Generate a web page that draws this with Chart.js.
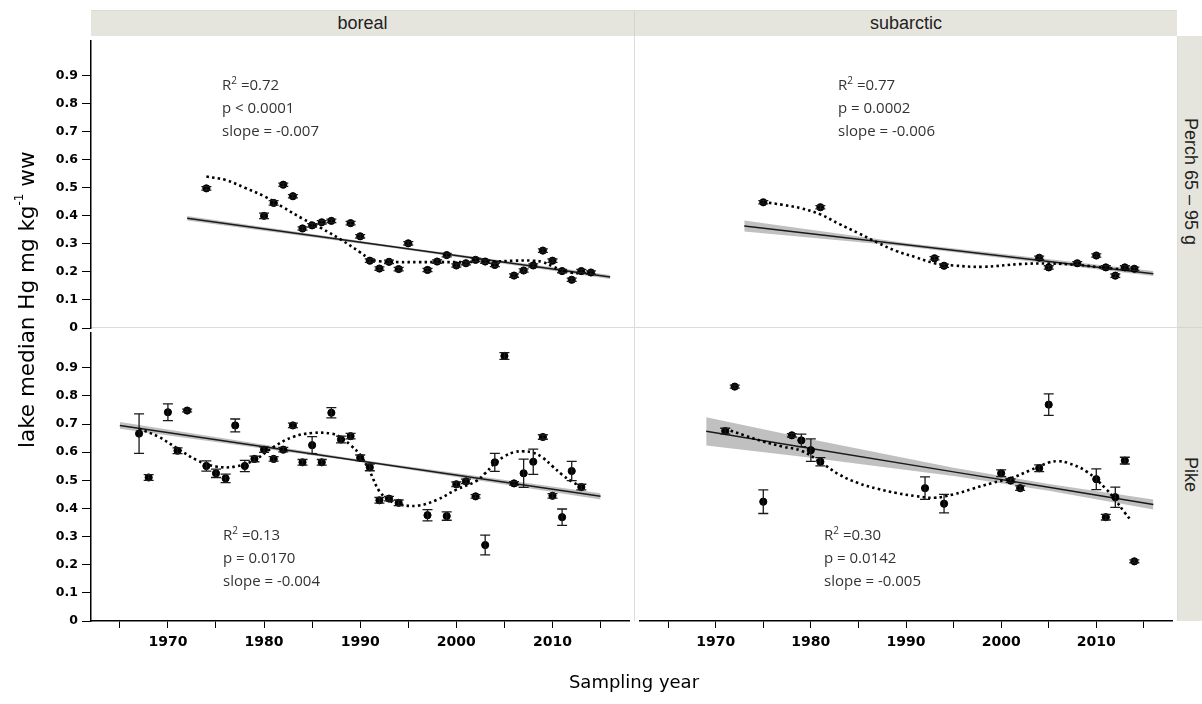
<!DOCTYPE html>
<html>
<head>
<meta charset="utf-8">
<script src="https://cdn.jsdelivr.net/npm/chart.js@4.4.1/dist/chart.umd.min.js"></script>
<style>
  html, body { margin: 0; padding: 0; background: #fff; }
  body { width: 1202px; height: 704px; position: relative; overflow: hidden; font-family: 'DejaVu Sans', sans-serif; }
  .abs { position: absolute; }
  .strip { position: absolute; background: #e6e5dd; color: #222; font-family: 'Liberation Sans', Arial, sans-serif; font-size: 18px;
    display: flex; align-items: center; justify-content: center; box-sizing: border-box; }
  .vstrip { writing-mode: vertical-rl; }
  .note { position: absolute; font-family: 'Open Sans', sans-serif; font-size: 15px; line-height: 23px; color: #333; white-space: nowrap; }
  .note sup { font-size: 10px; line-height: 0; }
  .sep { position: absolute; background: #dcdcdc; }
  #ytitle { position: absolute; left: 12px; top: 92px; height: 416px; width: 26px; writing-mode: vertical-rl; transform: rotate(180deg);
    text-align: center; font-size: 21.5px; color: #000; white-space: nowrap; }
  #ytitle sup { font-size: 12px; }
  #xtitle { position: absolute; left: 434px; width: 400px; top: 671px; text-align: center; font-size: 18px; color: #000; }
</style>
</head>
<body>
<!-- facet strips -->
<div class="strip" style="left:91px;top:10px;width:544px;height:26px;border-right:1px solid #d6d5cc;border-top:1px solid #dddcd2;">boreal</div>
<div class="strip" style="left:635px;top:10px;width:542px;height:26px;border-top:1px solid #dddcd2;">subarctic</div>
<div class="strip vstrip" style="left:1178px;top:36px;width:24px;height:292px;border-bottom:1px solid #d6d5cc;">Perch 65 – 95 g</div>
<div class="strip vstrip" style="left:1178px;top:328px;width:24px;height:293px;">Pike</div>

<!-- panel separators -->
<div class="sep" style="left:91px;top:327px;width:1086px;height:1px;"></div>
<div class="sep" style="left:634px;top:36px;width:1px;height:585px;"></div>
<div class="sep" style="left:1177px;top:36px;width:1px;height:585px;"></div>

<div class="abs" style="left:0;top:36px;"><canvas id="cTL" width="634" height="300"></canvas></div>
<div class="abs" style="left:635px;top:36px;"><canvas id="cTR" width="542" height="292"></canvas></div>
<div class="abs" style="left:0;top:328px;"><canvas id="cBL" width="634" height="376"></canvas></div>
<div class="abs" style="left:635px;top:328px;"><canvas id="cBR" width="542" height="376"></canvas></div>

<div class="note" style="left:222px;top:73px;">R<sup>2</sup> =0.72<br>p &lt; 0.0001<br>slope = -0.007</div>
<div class="note" style="left:838px;top:73px;">R<sup>2</sup> =0.77<br>p = 0.0002<br>slope = -0.006</div>
<div class="note" style="left:223px;top:523px;">R<sup>2</sup> =0.13<br>p = 0.0170<br>slope = -0.004</div>
<div class="note" style="left:824px;top:523px;">R<sup>2</sup> =0.30<br>p = 0.0142<br>slope = -0.005</div>

<div id="ytitle">lake median Hg mg kg<sup>-1</sup> ww</div>
<div id="xtitle">Sampling year</div>

<script>
// axis ticks
const yearTicks = [1965, 1970, 1975, 1980, 1985, 1990, 1995, 2000, 2005, 2010, 2015];
const hgTicks = [0, 0.1, 0.2, 0.3, 0.4, 0.5, 0.6, 0.7, 0.8, 0.9];

// boreal, perch 65-95 g
const bpYears = [1974, 1980, 1981, 1982, 1983, 1984, 1985, 1986, 1987, 1989, 1990, 1991, 1992, 1993, 1994, 1995, 1997,
  1998, 1999, 2000, 2001, 2002, 2003, 2004, 2006, 2007, 2008, 2009, 2010, 2011, 2012, 2013, 2014];
const bpHg = [0.498, 0.40, 0.446, 0.511, 0.47, 0.355, 0.366, 0.377, 0.382, 0.374, 0.327, 0.24, 0.212, 0.236, 0.21, 0.302, 0.207,
  0.237, 0.26, 0.223, 0.231, 0.243, 0.237, 0.225, 0.187, 0.205, 0.223, 0.276, 0.24, 0.203, 0.172, 0.203, 0.198];
const bpErr = [0.006, 0.01, 0.008, 0.006, 0.006, 0.006, 0.006, 0.006, 0.006, 0.006, 0.006, 0.006, 0.006, 0.006, 0.006, 0.006, 0.006,
  0.006, 0.006, 0.006, 0.006, 0.006, 0.006, 0.006, 0.006, 0.006, 0.006, 0.006, 0.006, 0.006, 0.006, 0.006, 0.006];
const bpFitYears = [1972, 1994, 2016];
const bpFit = [0.391, 0.287, 0.182];
const bpBandLo = [0.383, 0.283, 0.175];
const bpBandHi = [0.399, 0.291, 0.189];
const bpSmoothYears = [1974, 1976, 1978, 1980, 1982, 1984, 1986, 1988, 1990, 1991, 1992, 1994, 1996, 1998, 2000, 2002, 2004,
  2006, 2008, 2009, 2010, 2011, 2012, 2013];
const bpSmooth = [0.54, 0.528, 0.50, 0.47, 0.43, 0.39, 0.355, 0.315, 0.27, 0.247, 0.238, 0.235, 0.235, 0.235, 0.235, 0.236, 0.237,
  0.24, 0.24, 0.235, 0.22, 0.205, 0.197, 0.195];

// subarctic, perch 65-95 g
const spYears = [1975, 1981, 1993, 1994, 2004, 2005, 2008, 2010, 2011, 2012, 2013, 2014];
const spHg = [0.439, 0.421, 0.236, 0.209, 0.238, 0.203, 0.218, 0.246, 0.203, 0.173, 0.203, 0.198];
const spErr = [0.006, 0.006, 0.006, 0.006, 0.006, 0.006, 0.006, 0.006, 0.006, 0.006, 0.006, 0.006];
const spFitYears = [1973, 1990, 2016];
const spFit = [0.353, 0.285, 0.18];
const spBandLo = [0.333, 0.279, 0.172];
const spBandHi = [0.373, 0.291, 0.19];
const spSmoothYears = [1975, 1977, 1979, 1981, 1983, 1985, 1987, 1989, 1991, 1993, 1995, 1998, 2002, 2005, 2008, 2010, 2012, 2014];
const spSmooth = [0.44, 0.43, 0.417, 0.395, 0.36, 0.327, 0.293, 0.262, 0.24, 0.218, 0.21, 0.205, 0.215, 0.217, 0.212, 0.205, 0.198, 0.195];

// boreal, pike
const bkYears = [1967, 1968, 1970, 1971, 1972, 1974, 1975, 1976, 1977, 1978, 1979, 1980, 1981, 1982, 1983, 1984, 1985, 1986,
  1987, 1988, 1989, 1990, 1991, 1992, 1993, 1994, 1997, 1999, 2000, 2001, 2002, 2003, 2004, 2005, 2006, 2007, 2008, 2009,
  2010, 2011, 2012, 2013];
const bkHg = [0.666, 0.51, 0.742, 0.605, 0.748, 0.551, 0.525, 0.507, 0.695, 0.551, 0.576, 0.609, 0.576, 0.609, 0.695, 0.564, 0.625, 0.564,
  0.74, 0.645, 0.657, 0.58, 0.546, 0.429, 0.435, 0.42, 0.376, 0.373, 0.486, 0.496, 0.443, 0.27, 0.564, 0.942, 0.489, 0.525, 0.566, 0.654,
  0.445, 0.369, 0.533, 0.476];
const bkErr = [0.07, 0.01, 0.03, 0.01, 0.005, 0.018, 0.015, 0.015, 0.023, 0.02, 0.01, 0.01, 0.008, 0.008, 0.008, 0.01, 0.03, 0.01,
  0.018, 0.012, 0.01, 0.01, 0.012, 0.01, 0.008, 0.01, 0.02, 0.015, 0.008, 0.008, 0.006, 0.035, 0.032, 0.012, 0.006, 0.05, 0.045, 0.008,
  0.008, 0.029, 0.034, 0.01];
const bkFitYears = [1965, 1990, 2015];
const bkFit = [0.695, 0.569, 0.443];
const bkBandLo = [0.683, 0.565, 0.432];
const bkBandHi = [0.707, 0.573, 0.454];
const bkSmoothYears = [1967, 1969, 1971, 1973, 1975, 1977, 1979, 1981, 1983, 1985, 1987, 1988, 1989, 1990, 1991, 1992, 1993, 1994,
  1996, 1998, 2000, 2002, 2003, 2004, 2005, 2006, 2007, 2008, 2009, 2010, 2011, 2012, 2013];
const bkSmooth = [0.683, 0.655, 0.613, 0.572, 0.549, 0.549, 0.572, 0.619, 0.654, 0.668, 0.666, 0.652, 0.625, 0.59, 0.531, 0.461, 0.43, 0.415,
  0.41, 0.431, 0.467, 0.496, 0.525, 0.56, 0.585, 0.6, 0.603, 0.598, 0.58, 0.55, 0.52, 0.496, 0.478];

// subarctic, pike
const skYears = [1971, 1972, 1975, 1978, 1979, 1980, 1981, 1992, 1994, 2000, 2001, 2002, 2004, 2005, 2010, 2011, 2012, 2013, 2014];
const skHg = [0.675, 0.833, 0.424, 0.66, 0.642, 0.607, 0.566, 0.472, 0.417, 0.525, 0.499, 0.472, 0.543, 0.769, 0.504, 0.369, 0.44, 0.57, 0.212];
const skErr = [0.01, 0.005, 0.042, 0.006, 0.022, 0.04, 0.015, 0.04, 0.033, 0.012, 0.006, 0.008, 0.012, 0.038, 0.037, 0.01, 0.036, 0.012, 0.005];
const skFitYears = [1969, 1980, 1995, 2005, 2016];
const skFit = [0.674, 0.613, 0.530, 0.475, 0.414];
const skBandLo = [0.624, 0.58, 0.515, 0.463, 0.396];
const skBandHi = [0.724, 0.646, 0.545, 0.487, 0.432];
const skSmoothYears = [1971, 1973, 1975, 1977, 1979, 1981, 1983, 1985, 1987, 1989, 1991, 1993, 1995, 1997, 1999, 2001, 2003, 2005,
  2006, 2007, 2009, 2011, 2012, 2013, 2013.7];
const skSmooth = [0.683, 0.66, 0.638, 0.62, 0.605, 0.565, 0.52, 0.49, 0.47, 0.455, 0.444, 0.438, 0.45, 0.47, 0.49, 0.507, 0.535, 0.563,
  0.568, 0.562, 0.531, 0.47, 0.43, 0.385, 0.355];

const xy = (xs, ys) => xs.map((x, i) => ({ x, y: ys[i] }));

// error bars for the points dataset (index 0), through the chart's own scales
const errorBars = {
  id: 'errorBars',
  afterDatasetsDraw(chart) {
    const ds = chart.data.datasets[0];
    if (!ds.err) return;
    const { ctx, scales: { x, y } } = chart;
    ctx.save();
    ctx.strokeStyle = '#1a1a1a';
    ctx.lineWidth = 1.3;
    ds.data.forEach((p, i) => {
      const e = ds.err[i];
      if (!e) return;
      const px = x.getPixelForValue(p.x), t = y.getPixelForValue(p.y + e), b = y.getPixelForValue(p.y - e);
      ctx.beginPath();
      ctx.moveTo(px, t); ctx.lineTo(px, b);
      ctx.moveTo(px - 5, t); ctx.lineTo(px + 5, t);
      ctx.moveTo(px - 5, b); ctx.lineTo(px + 5, b);
      ctx.stroke();
    });
    ctx.restore();
  }
};

const yFont = { family: 'DejaVu Sans', weight: 'bold', size: 12.5 };
const xFont = { family: 'DejaVu Sans', weight: 'bold', size: 14 };

function panel(id, d, showX, showY, padBottom) {
  return new Chart(document.getElementById(id), {
    type: 'scatter',
    data: {
      datasets: [
        { data: xy(d.years, d.hg), err: d.err, backgroundColor: '#000', borderColor: '#000', pointRadius: 3.6, pointHoverRadius: 3.6 },
        { type: 'line', data: xy(d.smYears, d.sm), borderColor: '#000', borderWidth: 2.6, borderDash: [2.5, 3.2], tension: 0.4,
          pointRadius: 0, fill: false },
        { type: 'line', data: xy(d.fitYears, d.fit), borderColor: '#1a1a1a', borderWidth: 1.5, pointRadius: 0, fill: false },
        { type: 'line', data: xy(d.fitYears, d.hi), borderWidth: 0, pointRadius: 0, fill: '+1', backgroundColor: 'rgba(150,150,150,0.6)' },
        { type: 'line', data: xy(d.fitYears, d.lo), borderWidth: 0, pointRadius: 0, fill: false },
      ]
    },
    options: {
      responsive: false,
      animation: false,
      events: [],
      layout: { padding: { top: 0, left: 0, right: 0, bottom: padBottom || 0 } },
      plugins: { legend: { display: false }, tooltip: { enabled: false } },
      scales: {
        x: {
          type: 'linear', min: 1962, max: 2018, display: showX,
          afterBuildTicks: (s) => { s.ticks = yearTicks.map((v) => ({ value: v })); },
          afterFit: (s) => { if (!showX) return; s.height = 83; s.paddingLeft = 0; s.paddingRight = 0; },
          border: { display: true, color: '#000', width: 1.5 },
          grid: { drawOnChartArea: false, drawTicks: true, tickLength: 7, color: '#000' },
          ticks: { font: xFont, color: '#000', padding: 6, maxRotation: 0, autoSkip: false,
            callback: (v) => (v % 10 === 0 ? String(v) : '') }
        },
        y: {
          min: 0, max: 1.025, display: showY,
          afterBuildTicks: (s) => { s.ticks = hgTicks.map((v) => ({ value: v })); },
          afterFit: (s) => { if (!showY) return; s.width = 91; s.paddingTop = 0; s.paddingBottom = 0; },
          border: { display: true, color: '#000', width: 1.5 },
          grid: { drawOnChartArea: false, drawTicks: true, tickLength: 9, color: '#000' },
          ticks: { font: yFont, color: '#000', padding: 4, autoSkip: false,
            callback: (v) => (v === 0 ? '0' : v.toFixed(1)) }
        }
      }
    },
    plugins: [errorBars]
  });
}

panel('cTL', { years: bpYears, hg: bpHg, err: bpErr, smYears: bpSmoothYears, sm: bpSmooth, fitYears: bpFitYears, fit: bpFit, lo: bpBandLo, hi: bpBandHi }, false, true, 8);
panel('cTR', { years: spYears, hg: spHg, err: spErr, smYears: spSmoothYears, sm: spSmooth, fitYears: spFitYears, fit: spFit, lo: spBandLo, hi: spBandHi }, false, false, 0);
panel('cBL', { years: bkYears, hg: bkHg, err: bkErr, smYears: bkSmoothYears, sm: bkSmooth, fitYears: bkFitYears, fit: bkFit, lo: bkBandLo, hi: bkBandHi }, true, true, 0);
panel('cBR', { years: skYears, hg: skHg, err: skErr, smYears: skSmoothYears, sm: skSmooth, fitYears: skFitYears, fit: skFit, lo: skBandLo, hi: skBandHi }, true, false, 0);
</script>
</body>
</html>
